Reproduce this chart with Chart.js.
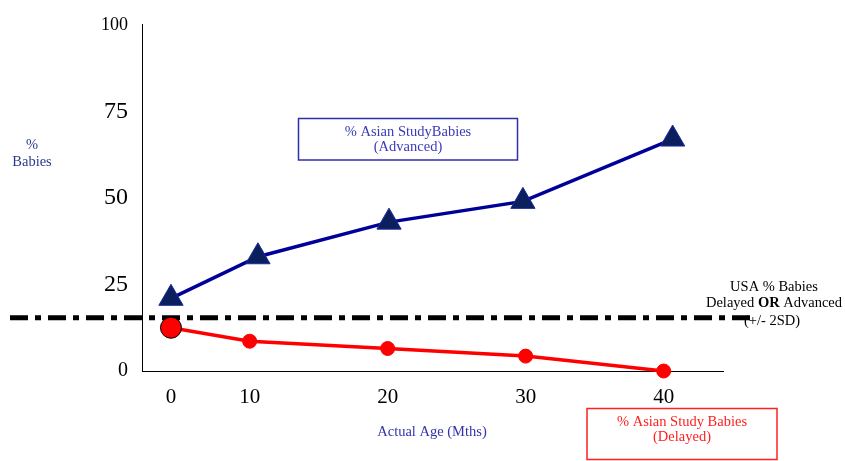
<!DOCTYPE html>
<html>
<head>
<meta charset="utf-8">
<title>% Babies Delayed or Advanced by Actual Age</title>
<script src="https://cdn.jsdelivr.net/npm/chart.js@4"></script>
<style>
  html, body { margin: 0; padding: 0; background: #ffffff; }
  #wrap { width: 845px; height: 461px; }
</style>
</head>
<body>
<div id="wrap"><canvas id="chart" width="845" height="461"></canvas></div>
<script>
// Nominal visit ages shown on the x axis, and the actual age of each visit
const visitLabels = ['0', '10', '20', '30', '40'];
const visitAges = [4.3, 10, 20, 30, 40];

// % of Asian study babies ahead of the norm (advanced)
const advancedAges = [4.3, 10.6, 20.1, 29.8, 40.65];
const advancedPct = [21, 33, 43, 49, 67];

// % of Asian study babies behind the norm (delayed)
const delayedAges = [4.3, 10, 20, 30, 40];
const delayedPct = [12.5, 8.6, 6.5, 4.3, 0];

// USA reference: % babies delayed or advanced beyond +/- 2SD
const usaPct = 15.4;

// Y axis tick values
const yTickValues = [0, 25, 50, 75, 100];

const SERIF = '"Liberation Serif", "Times New Roman", serif';
const yTickSizes = { 0: 20, 25: 24, 50: 24, 75: 24, 100: 18 };

// USA reference line, drawn across the plot and out past both axes
const usaLine = {
  id: 'usaLine',
  beforeDatasetsDraw(chart) {
    const { ctx, chartArea, scales } = chart;
    const y = scales.y.getPixelForValue(usaPct);
    ctx.save();
    ctx.strokeStyle = '#000000';
    ctx.lineWidth = 5;
    ctx.setLineDash([18, 7, 6, 7]);
    ctx.beginPath();
    ctx.moveTo(10, y);
    ctx.lineTo(chartArea.right + 32, y);
    ctx.stroke();
    ctx.restore();
  }
};

// Series labels, axis captions and the USA note
const notes = {
  id: 'notes',
  afterDraw(chart) {
    const { ctx } = chart;
    ctx.save();
    ctx.textAlign = 'center';
    ctx.textBaseline = 'middle';
    const f = (w) => (w ? 'bold ' : '') + '14.5px ' + SERIF;

    // y caption
    ctx.font = f();
    ctx.fillStyle = '#2b3a8c';
    ctx.fillText('%', 32, 145);
    ctx.fillText('Babies', 32, 162);

    // x caption
    ctx.fillStyle = '#3333aa';
    ctx.fillText('Actual Age (Mths)', 432, 432);

    // advanced box
    ctx.strokeStyle = '#2e2eb0';
    ctx.lineWidth = 1.5;
    ctx.strokeRect(298.5, 118.5, 219, 41.5);
    ctx.fillStyle = '#3a3ab8';
    ctx.fillText('% Asian StudyBabies', 408, 132);
    ctx.fillText('(Advanced)', 408, 147);

    // delayed box
    ctx.strokeStyle = '#ff2020';
    ctx.strokeRect(587, 408.5, 190, 51);
    ctx.fillStyle = '#ff2020';
    ctx.fillText('% Asian Study Babies', 682, 422);
    ctx.fillText('(Delayed)', 682, 437);

    // USA note
    ctx.fillStyle = '#000000';
    ctx.fillText('USA % Babies', 774, 287);
    const parts = [['Delayed ', false], ['OR', true], [' Advanced', false]];
    let total = 0;
    parts.forEach(p => { ctx.font = f(p[1]); total += ctx.measureText(p[0]).width; });
    let x = 774 - total / 2;
    ctx.textAlign = 'left';
    parts.forEach(p => {
      ctx.font = f(p[1]);
      ctx.fillText(p[0], x, 303.5);
      x += ctx.measureText(p[0]).width;
    });
    ctx.font = f();
    ctx.textAlign = 'center';
    ctx.fillText('(+/- 2SD)', 772, 321);
    ctx.restore();
  }
};

new Chart(document.getElementById('chart'), {
  type: 'line',
  data: {
    datasets: [
      {
        label: '% Asian Study Babies (Advanced)',
        data: advancedAges.map((a, i) => ({ x: a, y: advancedPct[i] })),
        borderColor: '#000099',
        borderWidth: 3.5,
        pointStyle: 'triangle',
        pointRadius: 14,
        pointBackgroundColor: '#0b1f5e',
        pointBorderColor: '#1a2a9a',
        pointBorderWidth: 1,
        clip: false
      },
      {
        label: '% Asian Study Babies (Delayed)',
        data: delayedAges.map((a, i) => ({ x: a, y: delayedPct[i] })),
        borderColor: '#ff0000',
        borderWidth: 3.5,
        pointStyle: 'circle',
        pointRadius: [10.5, 7, 7, 7, 7],
        pointBackgroundColor: '#ff0000',
        pointBorderColor: ['#000000', '#ff0000', '#ff0000', '#ff0000', '#ff0000'],
        pointBorderWidth: 1,
        clip: false
      }
    ]
  },
  options: {
    responsive: false,
    animation: false,
    layout: { padding: { left: 0, top: 21, right: 122, bottom: 0 } },
    plugins: {
      legend: { display: false },
      tooltip: { enabled: false }
    },
    scales: {
      x: {
        type: 'linear',
        min: 2.2,
        max: 44.3,
        afterBuildTicks: (scale) => { scale.ticks = visitAges.map(v => ({ value: v })); },
        afterFit: (scale) => { scale.height = 90; },
        grid: { display: false, drawTicks: false },
        border: { display: true, color: '#000000', width: 1 },
        ticks: {
          autoSkip: false,
          maxRotation: 0,
          padding: 14,
          color: '#000000',
          font: { family: SERIF, size: 21 },
          callback: (v, i) => visitLabels[i]
        }
      },
      y: {
        type: 'linear',
        min: 0,
        max: 100,
        afterBuildTicks: (scale) => { scale.ticks = yTickValues.map(v => ({ value: v })); },
        afterFit: (scale) => { scale.width = 142; },
        grid: { display: false, drawTicks: false },
        border: { display: true, color: '#000000', width: 1 },
        ticks: {
          padding: 14,
          color: '#000000',
          font: (c) => ({ family: SERIF, size: yTickSizes[c.tick ? c.tick.value : 0] || 20 }),
          callback: (v) => String(v)
        }
      }
    }
  },
  plugins: [usaLine, notes]
});
</script>
</body>
</html>
